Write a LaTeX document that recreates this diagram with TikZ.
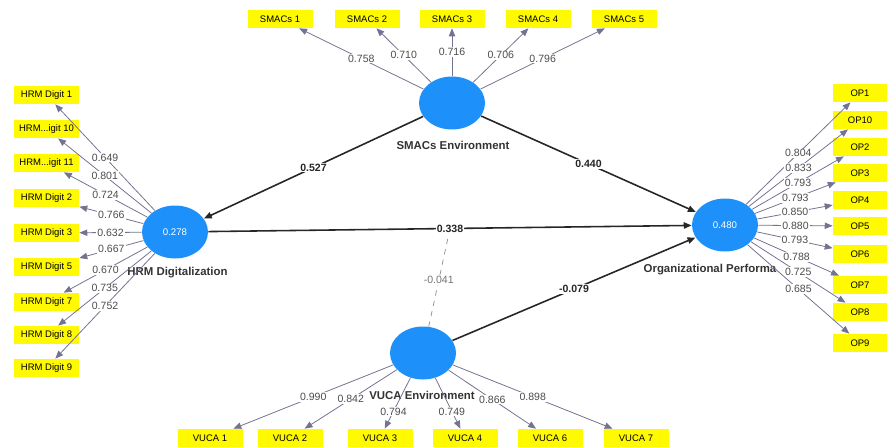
\documentclass[tikz,border=0pt]{standalone}
\usepackage{fontspec}
\setmainfont{Liberation Sans}
\usetikzlibrary{arrows.meta,shapes.geometric}
\definecolor{lvblue}{RGB}{30,144,250}
\definecolor{indyellow}{RGB}{255,250,0}
\definecolor{loadgray}{RGB}{115,115,145}
\tikzset{
  latent/.style={ellipse, fill=lvblue, minimum width=1.32cm,
    minimum height=1.06cm, inner sep=0pt, text=white,
    font=\fontsize{5.5}{6}\selectfont},
  indicator/.style={fill=indyellow, minimum width=1.3cm,
    minimum height=0.36cm, inner sep=0pt,
    font=\fontsize{5.4}{6}\selectfont},
  opbox/.style={indicator, minimum width=1.08cm},
  lvname/.style={font=\bfseries\fontsize{6.5}{7}\selectfont, text=black!80},
  loading/.style={->, draw=loadgray, line width=0.45pt},
  structural/.style={->, draw=black!85, line width=0.9pt},
  coef/.style={fill=white, inner sep=0.6pt, text=black!70,
    font=\fontsize{6}{7}\selectfont},
  pathcoef/.style={coef, text=black!85, font=\bfseries\fontsize{6}{7}\selectfont}
}

\begin{document}
\begin{tikzpicture}[>={Triangle[length=4.5pt,width=3.6pt]}]
  \useasboundingbox (0,0) rectangle (17.74,8.94);

  \node [latent] (smacs) at (9.04,6.88) {};
  \node [latent] (hrm) at (3.50,4.30) {0.278};
  \node [latent] (op) at (14.50,4.44) {0.480};
  \node [latent] (vuca) at (8.46,1.88) {};

  \node [lvname] (smacsname) at (9.06,6.04) {SMACs Environment};
  \node [lvname] (hrmname) at (3.55,3.48) {HRM Digitalization};
  \node [lvname] (opname) at (14.20,3.54) {Organizational Performa};
  \node [lvname] (vucaname) at (8.44,1.04) {VUCA Environment};

  \node [indicator] (s1) at (5.60,8.56) {SMACs 1};
  \node [indicator] (s2) at (7.34,8.56) {SMACs 2};
  \node [indicator] (s3) at (9.04,8.56) {SMACs 3};
  \node [indicator] (s4) at (10.76,8.56) {SMACs 4};
  \node [indicator] (s5) at (12.48,8.56) {SMACs 5};

  \node [indicator] (h1) at (0.93,7.04) {HRM Digit 1};
  \node [indicator] (h10) at (0.93,6.36) {HRM...igit 10};
  \node [indicator] (h11) at (0.93,5.68) {HRM...igit 11};
  \node [indicator] (h2) at (0.93,4.98) {HRM Digit 2};
  \node [indicator] (h3) at (0.93,4.28) {HRM Digit 3};
  \node [indicator] (h5) at (0.93,3.60) {HRM Digit 5};
  \node [indicator] (h7) at (0.93,2.90) {HRM Digit 7};
  \node [indicator] (h8) at (0.93,2.24) {HRM Digit 8};
  \node [indicator] (h9) at (0.93,1.58) {HRM Digit 9};

  \node [opbox] (o1) at (17.20,7.08) {OP1};
  \node [opbox] (o10) at (17.20,6.54) {OP10};
  \node [opbox] (o2) at (17.20,6.00) {OP2};
  \node [opbox] (o3) at (17.20,5.48) {OP3};
  \node [opbox] (o4) at (17.20,4.94) {OP4};
  \node [opbox] (o5) at (17.20,4.42) {OP5};
  \node [opbox] (o6) at (17.20,3.86) {OP6};
  \node [opbox] (o7) at (17.20,3.24) {OP7};
  \node [opbox] (o8) at (17.20,2.70) {OP8};
  \node [opbox] (o9) at (17.20,2.08) {OP9};

  \node [indicator] (v1) at (4.20,0.18) {VUCA 1};
  \node [indicator] (v2) at (5.80,0.18) {VUCA 2};
  \node [indicator] (v3) at (7.60,0.18) {VUCA 3};
  \node [indicator] (v4) at (9.30,0.18) {VUCA 4};
  \node [indicator] (v6) at (11.00,0.18) {VUCA 6};
  \node [indicator] (v7) at (12.72,0.18) {VUCA 7};

  \draw [loading] (smacs) to node [coef] {0.758} (s1);
  \draw [loading] (smacs) to node [coef] {0.710} (s2);
  \draw [loading] (smacs) to node [coef] {0.716} (s3);
  \draw [loading] (smacs) to node [coef] {0.706} (s4);
  \draw [loading] (smacs) to node [coef] {0.796} (s5);

  \draw [loading] (hrm) to node [coef] {0.649} (h1);
  \draw [loading] (hrm) to node [coef] {0.801} (h10);
  \draw [loading] (hrm) to node [coef] {0.724} (h11);
  \draw [loading] (hrm) to node [coef] {0.766} (h2);
  \draw [loading] (hrm) to node [coef] {0.632} (h3);
  \draw [loading] (hrm) to node [coef] {0.667} (h5);
  \draw [loading] (hrm) to node [coef] {0.670} (h7);
  \draw [loading] (hrm) to node [coef] {0.735} (h8);
  \draw [loading] (hrm) to node [coef] {0.752} (h9);

  \draw [loading] (op) to node [coef] {0.804} (o1);
  \draw [loading] (op) to node [coef] {0.833} (o10);
  \draw [loading] (op) to node [coef] {0.793} (o2);
  \draw [loading] (op) to node [coef] {0.793} (o3);
  \draw [loading] (op) to node [coef] {0.850} (o4);
  \draw [loading] (op) to node [coef] {0.880} (o5);
  \draw [loading] (op) to node [coef] {0.793} (o6);
  \draw [loading] (op) to node [coef] {0.788} (o7);
  \draw [loading] (op) to node [coef] {0.725} (o8);
  \draw [loading] (op) to node [coef] {0.685} (o9);

  \draw [loading] (vuca) to node [coef] {0.990} (v1);
  \draw [loading] (vuca) to node [coef] {0.842} (v2);
  \draw [loading] (vuca) to node [coef, pos=0.66] {0.794} (v3);
  \draw [loading] (vuca) to node [coef, pos=0.66] {0.749} (v4);
  \draw [loading] (vuca) to node [coef] {0.866} (v6);
  \draw [loading] (vuca) to node [coef] {0.898} (v7);

  \draw [structural] (smacs) to node [pathcoef] {0.527} (hrm);
  \draw [structural] (smacs) to node [pathcoef] {0.440} (op);
  \draw [structural] (hrm) to node [pathcoef] (mod) {0.338} (op);
  \draw [structural] (vuca) to node [pathcoef] {-0.079} (op);
  \draw [dashed, draw=black!45, line width=0.4pt] (vuca) to node [coef, text=black!55]
    {-0.041} (mod);
\end{tikzpicture}
\end{document}
